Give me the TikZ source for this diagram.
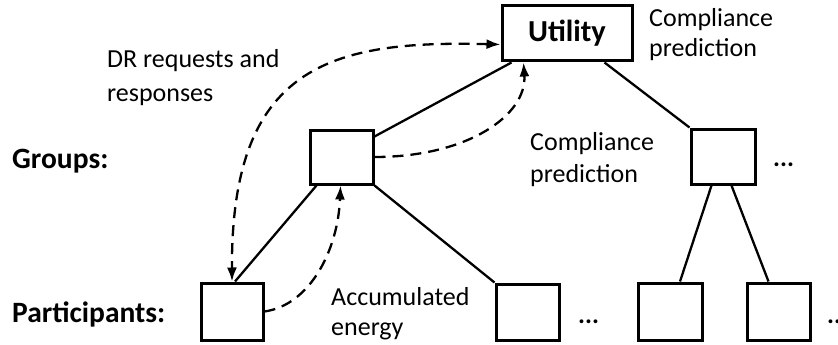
\documentclass[tikz,border=0pt]{standalone}
\usepackage{fontspec}
\setmainfont{Carlito}
\usetikzlibrary{arrows.meta}
\begin{document}
\begin{tikzpicture}[x=1pt,y=-1pt,
  box/.style={draw,line width=3pt,inner sep=0pt},
  link/.style={line width=2.3pt},
  flow/.style={line width=2.3pt,dash pattern=on 11pt off 7pt,
    -{Latex[length=14pt,width=10pt]}},
  txt/.style={anchor=base west,inner sep=0pt,font=\fontsize{26}{31}\selectfont},
  lbl/.style={anchor=base west,inner sep=0pt,font=\fontsize{29.5}{35}\selectfont\bfseries},
  dots/.style={anchor=base west,inner sep=0pt,font=\fontsize{26}{31}\selectfont\bfseries}]
\useasboundingbox (0,0) rectangle (838,345);
% boxes
\node[box,minimum width=130pt,minimum height=55pt,font=\fontsize{30.5}{36}\selectfont\bfseries] (u) at (567,33.5) {Utility};
\node[box,minimum width=63pt,minimum height=54pt] (g1) at (341.5,157) {};
\node[box,minimum width=64pt,minimum height=55pt] (g2) at (723,156.5) {};
\node[box,minimum width=62pt,minimum height=57pt] (p1) at (232,311.5) {};
\node[box,minimum width=63pt,minimum height=56pt] (p2) at (527.5,312) {};
\node[box,minimum width=64pt,minimum height=57pt] (p3) at (670,311.5) {};
\node[box,minimum width=63pt,minimum height=57pt] (p4) at (778.5,311.5) {};
% solid links
\draw[link] ([xshift=11pt]u.south west) -- ([yshift=-8pt]g1.north east);
\draw[link] ([xshift=-29pt]u.south east) -- (g2.north west);
\draw[link] ([xshift=8pt]g1.south west) -- ([xshift=3pt]p1.north);
\draw[link] (g1.south east) -- (p2.north west);
\draw[link] ([xshift=22pt]g2.south west) -- ([xshift=10pt]p3.north);
\draw[link] ([xshift=42pt]g2.south west) -- ([xshift=-10pt]p4.north);
% dashed flows
\draw[flow,{Latex[length=14pt,width=10pt]}-{Latex[length=14pt,width=10pt]}]
  ([yshift=-11pt]u.west) .. controls (330,40) and (231,66) .. (p1.north);
\draw[flow] (g1.east) .. controls (468,157) and (527,115) .. ([xshift=23pt]u.south west);
\draw[flow] (p1.east) .. controls (310,305) and (338,250) .. ([xshift=-1pt]g1.south);
% texts
\node[txt] (dr1) at (107,68) {DR requests and};
\node[txt] (dr2) at (107,102) {responses};
\node[txt] (cp1) at (649,27) {Compliance};
\node[txt] (cp2) at (649,57) {prediction};
\node[txt] (cm1) at (530,150) {Compliance};
\node[txt] (cm2) at (530,182) {prediction};
\node[txt] (ae1) at (331,305) {Accumulated};
\node[txt] (ae2) at (331,335) {energy};
\node[lbl] (grp) at (12,168) {Groups:};
\node[lbl] (par) at (12,322) {Participants:};
\node[dots] (d1) at (773,166) {...};
\node[dots] (d2) at (578,323) {...};
\node[dots] (d3) at (827,323) {...};
\end{tikzpicture}
\end{document}
